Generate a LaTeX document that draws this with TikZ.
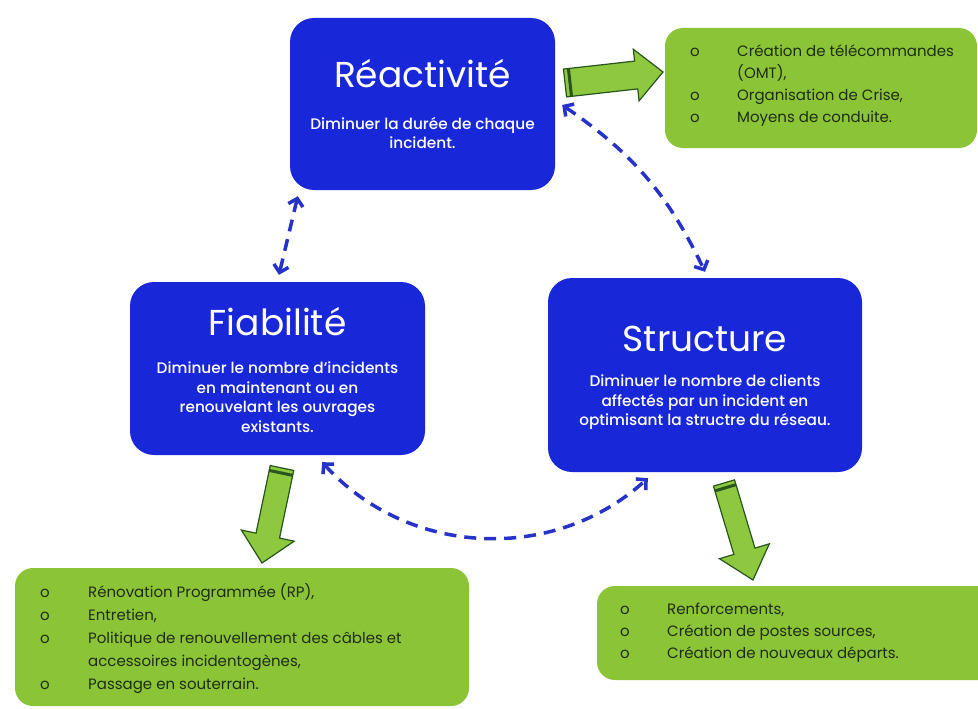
\documentclass[tikz,border=0pt]{standalone}
\usepackage{fontspec}
\setmainfont{Poppins}
\newfontfamily\medfont{Poppins Medium}
\usetikzlibrary{arrows.meta,calc}
\definecolor{bbox}{RGB}{24,40,216}
\definecolor{dashblue}{RGB}{38,50,200}
\definecolor{gbox}{RGB}{140,196,56}
\definecolor{garrow}{RGB}{141,200,62}
\definecolor{gdark}{RGB}{40,85,30}
\definecolor{gtext}{RGB}{30,45,20}
\tikzset{
 bluebox/.style={fill=bbox, rounded corners=24pt, inner sep=0pt},
 greenbox/.style={fill=gbox, rounded corners=18pt},
 titletext/.style={text=white, anchor=base, inner sep=0pt, font=\fontsize{36}{40}\selectfont},
 bodytext/.style={text=white, align=center, inner sep=0pt, font=\medfont\fontsize{15.3}{19.5}\selectfont},
 glist/.style={text=gtext, anchor=base west, inner sep=0pt, font=\fontsize{15}{22}\selectfont},
 link/.style={dashblue, line width=3.5pt, dash pattern=on 12pt off 8pt,
   {Straight Barb[length=7pt,width=15pt]}-{Straight Barb[length=7pt,width=15pt]}},
 garrowshape/.style={fill=garrow, draw=gdark, line width=1.2pt, line join=miter},
}
\newcommand{\garr}[6]{%
 \coordinate (#1s) at #2; \coordinate (#1e) at #3;
 \coordinate (#1h) at ($(#1e)!#6!(#1s)$);
 \draw[garrowshape] ($(#1s)!#4!90:(#1e)$) -- ($(#1h)!#4!90:(#1e)$) -- ($(#1h)!#5!90:(#1e)$) -- (#1e)
   -- ($(#1h)!#5!-90:(#1e)$) -- ($(#1h)!#4!-90:(#1e)$) -- ($(#1s)!#4!-90:(#1e)$) -- cycle;
 \coordinate (#1t) at ($(#1s)!5pt!(#1e)$);
 \draw[gdark, line width=3pt] ($(#1t)!#4!90:(#1e)$) -- ($(#1t)!#4!-90:(#1e)$);
}
\begin{document}
\begin{tikzpicture}[x=1pt,y=-1pt]
\useasboundingbox (0,0) rectangle (978,709);
\clip (0,0) rectangle (978,709);
\fill[white] (0,0) rectangle (978,709);

% blue boxes
\node[bluebox, minimum width=265, minimum height=172] (react) at (422.5,104) {};
\node[bluebox, minimum width=295, minimum height=173] (fiab) at (277.5,368.5) {};
\node[bluebox, minimum width=314, minimum height=194] (struct) at (705,375) {};

\node[titletext] (reactT) at (422.5,88) {Réactivité};
\node[titletext] (fiabT) at (277.5,335) {Fiabilité};
\node[titletext] (structT) at (705,351) {Structure};
\node[bodytext] (reactB) at (422.5,133) {Diminuer la durée de chaque\\incident.};
\node[bodytext] (fiabB) at (277.5,397) {Diminuer le nombre d’incidents\\en maintenant ou en\\renouvelant les ouvrages\\existants.};
\node[bodytext] (structB) at (705,402.5) {Diminuer le nombre de clients\\affectés par un incident en\\optimisant la structre du réseau.};

% green boxes
\fill[greenbox] (665,28) rectangle (977,148);
\fill[greenbox] (15,568) rectangle (469,706);
\fill[greenbox] (597,586) rectangle (1000,680);

\node[glist] (l1) at (690,57) {\begin{tabular}[t]{@{}p{47pt}@{}l@{}}
o & Création de télécommandes\\
  & (OMT),\\
o & Organisation de Crise,\\
o & Moyens de conduite.
\end{tabular}};
\node[glist, font=\fontsize{15}{23}\selectfont] (l2) at (40,597) {\begin{tabular}[t]{@{}p{48pt}@{}l@{}}
o & Rénovation Programmée (RP),\\
o & Entretien,\\
o & Politique de renouvellement des câbles et\\
  & accessoires incidentogènes,\\
o & Passage en souterrain.
\end{tabular}};
\node[glist] (l3) at (620,614) {\begin{tabular}[t]{@{}p{47pt}@{}l@{}}
o & Renforcements,\\
o & Création de postes sources,\\
o & Création de nouveaux départs.
\end{tabular}};

% green block arrows
\garr{ga}{(565,83)}{(663,72)}{14pt}{26pt}{27pt}
\garr{gb}{(282,468)}{(262,563)}{12pt}{27pt}{28pt}
\garr{gc}{(724,483)}{(753,580)}{11pt}{26pt}{30pt}

% dashed links
\draw[link] ([shift={(8,6)}]react.south west) -- ([shift={(1.5,-7)}]fiab.north);
\draw[link] ([shift={(7,1)}]react.east) to[bend left=15] ([shift={(0,-6)}]struct.north);
\draw[link] ([shift={(-103,7)}]fiab.south east) to[bend right=45] ([shift={(100,6)}]struct.south west);
\end{tikzpicture}
\end{document}
